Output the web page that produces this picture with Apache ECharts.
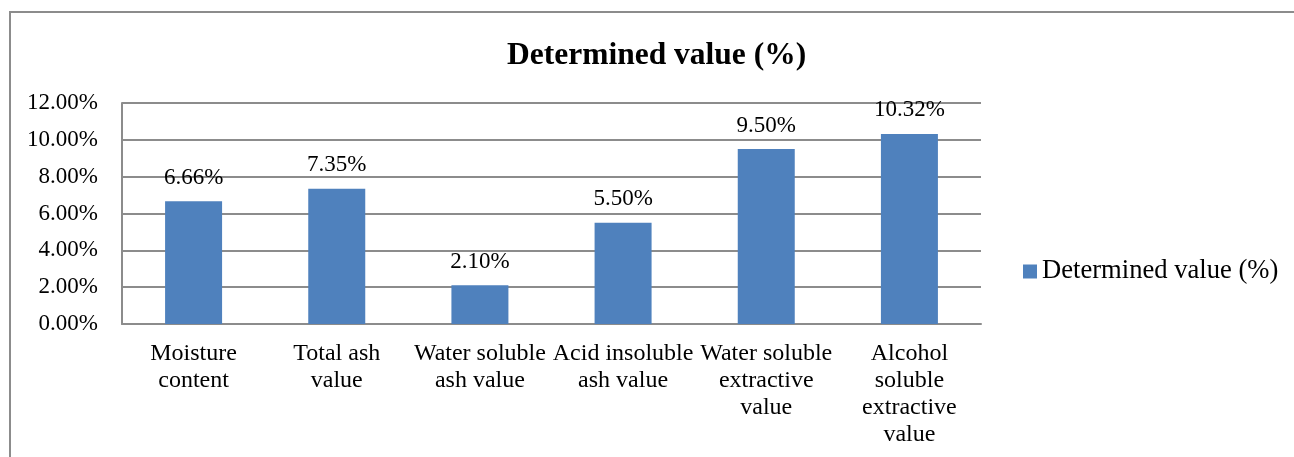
<!DOCTYPE html>
<html>
<head>
<meta charset="utf-8">
<script src="https://cdn.jsdelivr.net/npm/echarts@6/dist/echarts.min.js"></script>
<style>
  html, body { margin: 0; padding: 0; background: #fff; }
  #chart { width: 1294px; height: 457px; }
</style>
</head>
<body>
<div id="chart"></div>
<script>
// categories and values (percent)
const categories = [
  'Moisture\ncontent',
  'Total ash\nvalue',
  'Water soluble\nash value',
  'Acid insoluble\nash value',
  'Water soluble\nextractive\nvalue',
  'Alcohol\nsoluble\nextractive\nvalue'
]
const values = [6.66, 7.35, 2.10, 5.50, 9.50, 10.32]
const seriesName = 'Determined value (%)'

const font = '"Liberation Serif", "Times New Roman", serif'
const chart = echarts.init(document.getElementById('chart'))

let option = {
  animation: false,
  textStyle: { fontFamily: font },
  graphic: [
    {
      type: 'rect',
      shape: { x: 10, y: 12, width: 1300, height: 460 },
      style: { fill: 'none', stroke: '#8c8c8c', lineWidth: 2 },
    },
  ],
  title: {
    text: seriesName,
    left: 502,
    top: 35,
    textStyle: { fontFamily: font, fontSize: 31.5, fontWeight: 'bold', color: '#000' },
  },
  legend: {
    left: 1023,
    top: 258,
    padding: 0,
    itemWidth: 14,
    itemHeight: 14,
    itemGap: 6,
    icon: 'rect',
    textStyle: { fontFamily: font, fontSize: 26.6, color: '#000', padding: [3, 0, 0, 0] },
    data: [seriesName],
  },
  grid: { left: 122, right: 313, top: 103, bottom: 133, containLabel: false },
  xAxis: {
    type: 'category',
    data: categories,
    axisLine: { lineStyle: { color: '#8c8c8c', width: 2 } },
    axisTick: { show: false },
    axisLabel: {
      interval: 0,
      margin: 16,
      fontFamily: font,
      fontSize: 24,
      lineHeight: 27,
      color: '#000',
    },
  },
  yAxis: {
    type: 'value',
    min: 0,
    max: 12,
    interval: 2,
    axisLine: { show: true, lineStyle: { color: '#8c8c8c', width: 2 } },
    axisTick: { show: false },
    splitLine: { lineStyle: { color: '#8c8c8c', width: 2 } },
    axisLabel: {
      margin: 24,
      fontFamily: font,
      fontSize: 23,
      color: '#000',
      formatter: (v) => v.toFixed(2) + '%',
    },
  },
  series: [
    {
      name: seriesName,
      type: 'bar',
      data: values,
      barWidth: 57,
      itemStyle: { color: '#4f81bd' },
      label: {
        show: true,
        position: 'top',
        distance: 12,
        fontFamily: font,
        fontSize: 23,
        color: '#000',
        formatter: (p) => p.value.toFixed(2) + '%',
      },
    },
  ],
}

chart.setOption(option)
</script>
</body>
</html>
